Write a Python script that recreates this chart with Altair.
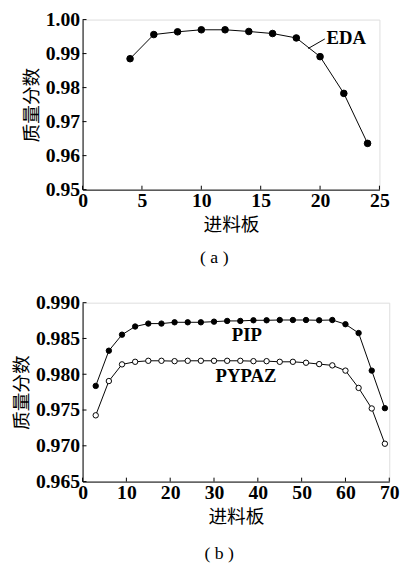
import altair as alt
import pandas as pd

# ---- data (a) ----
eda_plate = [4, 6, 8, 10, 12, 14, 16, 18, 20, 22, 24]
eda_frac = [0.9885, 0.9956, 0.9964, 0.9970, 0.9970, 0.9965, 0.9959, 0.9946,
            0.9891, 0.9783, 0.9636]

# ---- data (b) ----
b_plate = [3, 6, 9, 12, 15, 18, 21, 24, 27, 30, 33, 36, 39, 42, 45, 48, 51,
           54, 57, 60, 63, 66, 69]
pip_frac = [0.97837, 0.98329, 0.98553, 0.98667, 0.98708, 0.98708, 0.98726,
            0.98726, 0.98726, 0.98735, 0.98745, 0.98745, 0.98754, 0.98754,
            0.98758, 0.98758, 0.98758, 0.98754, 0.98758, 0.98699, 0.98576,
            0.98051, 0.97526]
pypaz_frac = [0.97426, 0.97905, 0.98138, 0.98174, 0.98188, 0.98188, 0.98183,
              0.98188, 0.98188, 0.98188, 0.98188, 0.98188, 0.98183, 0.98183,
              0.98174, 0.98174, 0.98161, 0.98142, 0.98124, 0.98051, 0.97809,
              0.97522, 0.97029]

a_xticks = [0, 5, 10, 15, 20, 25]
a_yticks = [0.95, 0.96, 0.97, 0.98, 0.99, 1.00]
b_xticks = [0, 10, 20, 30, 40, 50, 60, 70]
b_yticks = [0.965, 0.970, 0.975, 0.980, 0.985, 0.990]

# label anchors (data coordinates)
eda_label = {"x": [20.55], "y": [0.9945], "t": ["EDA"]}
eda_leader = {"x": [19.0], "y": [0.9915], "x2": [20.4], "y2": [0.9943]}
b_labels = {"x": [37.5, 37.3], "y": [0.98547, 0.97974], "t": ["PIP", "PYPAZ"]}

SERIF = "Liberation Serif"
CJK = "Noto Sans CJK SC"
XT = "进料板"
YT = "质量分数"


def xaxis(values):
    return alt.Axis(values=values, title=XT, ticks=False, grid=False,
                    labelFont=SERIF, labelFontWeight="bold", labelFontSize=20,
                    labelColor="black", labelPadding=1, labelFlush=False,
                    labelOverlap=False,
                    titleFont=CJK, titleFontSize=19, titleFontWeight="normal",
                    titleColor="black", titlePadding=6,
                    domainColor="black", domainWidth=1)


def yaxis(values, fmt):
    return alt.Axis(values=values, title=YT, ticks=False, grid=False,
                    format=fmt,
                    labelFont=SERIF, labelFontWeight="bold", labelFontSize=20,
                    labelColor="black", labelPadding=3, labelFlush=False,
                    labelOverlap=False,
                    titleFont=CJK, titleFontSize=19, titleFontWeight="normal",
                    titleColor="black", titlePadding=4,
                    domainColor="black", domainWidth=1)


def panel(width, height, xdom, ydom, xt, yt, fmt, series, labels, title, toff):
    xs = alt.Scale(domain=xdom, nice=False, zero=False)
    ys = alt.Scale(domain=ydom, nice=False, zero=False)
    ax = xaxis(xt)
    ay = yaxis(yt, fmt)
    layers = []
    for plate, frac, filled, size in series:
        df = pd.DataFrame({"x": plate, "y": frac})
        base = alt.Chart(df)
        enc = dict(x=alt.X("x:Q", scale=xs, axis=ax),
                   y=alt.Y("y:Q", scale=ys, axis=ay))
        layers.append(base.mark_line(color="black", strokeWidth=1).encode(**enc))
        layers.append(base.mark_point(
            filled=True, size=size, opacity=1, shape="circle",
            fill="black" if filled else "white", stroke="black",
            strokeWidth=1).encode(**enc))
    # inward tick marks
    tx = pd.DataFrame({"v": xt})
    ty = pd.DataFrame({"v": yt})
    layers.append(alt.Chart(tx).mark_rule(color="black", strokeWidth=1).encode(
        x=alt.X("v:Q", scale=xs, axis=ax), y=alt.value(height),
        y2=alt.value(height - 4)))
    layers.append(alt.Chart(ty).mark_rule(color="black", strokeWidth=1).encode(
        y=alt.Y("v:Q", scale=ys, axis=ay), x=alt.value(0), x2=alt.value(4)))
    for make in labels:
        layers.append(make(xs, ys, ax, ay))
    return alt.layer(*layers).properties(
        width=width, height=height,
        title=alt.TitleParams(title, orient="bottom", font=SERIF, fontSize=18,
                              fontWeight="normal", color="black", offset=toff,
                              dx=-17))


def a_text(xs, ys, ax, ay):
    return alt.Chart(pd.DataFrame(eda_label)).mark_text(
        font=SERIF, fontWeight="bold", fontSize=19, align="left",
        baseline="middle", color="black").encode(
        x=alt.X("x:Q", scale=xs, axis=ax), y=alt.Y("y:Q", scale=ys, axis=ay),
        text="t:N")


def a_rule(xs, ys, ax, ay):
    return alt.Chart(pd.DataFrame(eda_leader)).mark_rule(
        color="black", strokeWidth=1).encode(
        x=alt.X("x:Q", scale=xs, axis=ax), y=alt.Y("y:Q", scale=ys, axis=ay),
        x2="x2:Q", y2="y2:Q")


def b_text(xs, ys, ax, ay):
    return alt.Chart(pd.DataFrame(b_labels)).mark_text(
        font=SERIF, fontWeight="bold", fontSize=19, align="center",
        baseline="middle", color="black").encode(
        x=alt.X("x:Q", scale=xs, axis=ax), y=alt.Y("y:Q", scale=ys, axis=ay),
        text="t:N")


top = panel(302, 173, [0, 25], [0.95, 1.0], a_xticks, a_yticks, ".2f",
            [(eda_plate, eda_frac, True, 45)], [a_rule, a_text], "( a )", 15)
bottom = panel(312, 182, [0, 70], [0.965, 0.990], b_xticks, b_yticks, ".3f",
               [(b_plate, pip_frac, True, 30), (b_plate, pypaz_frac, False, 30)],
               [b_text], "( b )", 19)

chart = alt.vconcat(top, bottom, spacing=24).properties(
    padding={"left": 12, "top": 4, "right": 5, "bottom": 0}
).configure_view(stroke="black", strokeWidth=1).configure(background="white")

chart.save("out.html", embed_options={"renderer": "svg", "actions": False})
